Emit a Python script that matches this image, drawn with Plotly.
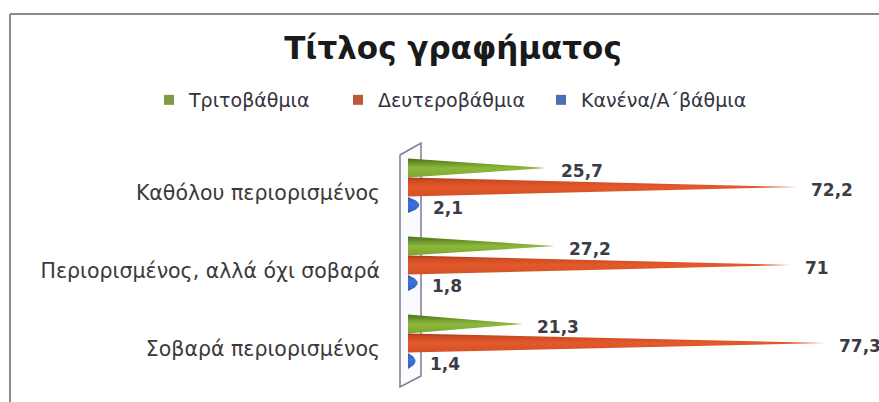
import numpy as np
import plotly.graph_objects as go

# ---- data -------------------------------------------------------------
categories = [
    "Καθόλου περιορισμένος",
    "Περιορισμένος, αλλά όχι σοβαρά",
    "Σοβαρά περιορισμένος",
]
series_names = ["Τριτοβάθμια", "Δευτεροβάθμια", "Κανένα/Α΄βάθμια"]
tertiary = [25.7, 27.2, 21.3]
secondary = [72.2, 71.0, 77.3]
none_primary = [2.1, 1.8, 1.4]
chart_title = "Τίτλος γραφήματος"

# ---- page geometry ----------------------------------------------------
W, H = 879, 402
M_L, M_R, M_T, M_B = 395, 0, 130, 0
PX_PER_UNIT_X = 5.39          # horizontal scale of the value axis
ZERO_PX = 408                 # pixel where the value axis starts
PX_PER_GROUP = 78.0           # vertical distance between category groups
TOP_GROUP_PX = 187.0          # centre of the middle cone of the first group

x_range = [(M_L - ZERO_PX) / PX_PER_UNIT_X, (W - M_R - ZERO_PX) / PX_PER_UNIT_X]
n = len(categories)


def y_of_px(p):
    return (n - 1) - (p - TOP_GROUP_PX) / PX_PER_GROUP


y_range = [y_of_px(H - M_B), y_of_px(M_T)]


def x_of_px(p):
    return (p - ZERO_PX) / PX_PER_UNIT_X


def paper_x(p):
    return (p - M_L) / (W - M_L - M_R)


def paper_y(p):
    return (H - M_B - p) / (H - M_T - M_B)


# series style: (values, vertical offset px, half height px, outline exponent, gradient)
series = [
    (tertiary, -19, 9.5, 1.0,
     [[0, "#4f6e18"], [0.25, "#6c962a"], [0.5, "#8cb83c"], [1, "#7ea534"]]),
    (secondary, 0, 9.5, 1.0,
     [[0, "#aa3c1a"], [0.2, "#d04c24"], [0.5, "#e35a2c"], [1, "#d45027"]]),
    (none_primary, 18, 8.0, 2.0,
     [[0, "#2d58b8"], [0.4, "#3c72dc"], [1, "#2f5fc2"]]),
]
legend_colors = ["#7f9a48", "#c0573c", "#4a6fb3"]
legend_widths = [144, 158, 180]

t = np.linspace(-1, 1, 41)

fig = go.Figure()

annotations = []
for (vals, dy_px, hh_px, expo, cscale), name in zip(series, series_names):
    for i, v in enumerate(vals):
        yc = (n - 1 - i) - dy_px / PX_PER_GROUP
        hh = hh_px / PX_PER_GROUP
        # cone silhouette: wide base on the axis, narrowing to the value
        xs = v * (1 - np.abs(t) ** expo)
        ys = yc - t * hh
        fig.add_trace(go.Scatter(
            x=np.r_[xs, xs[0]],
            y=np.r_[ys, ys[0]],
            mode="lines",
            fill="toself",
            fillgradient=dict(type="vertical", colorscale=cscale,
                              start=yc + hh, stop=yc - hh),
            line=dict(width=0),
            hoverinfo="skip",
            showlegend=False,
            name=name,
        ))
        annotations.append(dict(
            x=v, y=yc - 3 / PX_PER_GROUP, xref="x", yref="y",
            text=f"{v:g}".replace(".", ","),
            showarrow=False, xanchor="left", yanchor="middle", xshift=12,
            font=dict(family="DejaVu Sans", size=17, color="#3c3c46", weight="bold"),
        ))

# legend entries
for name, col, lw in zip(series_names, legend_colors, legend_widths):
    fig.add_trace(go.Scatter(
        x=[None], y=[None], mode="markers", name=name, legendwidth=lw,
        marker=dict(symbol="square", size=10, color=col),
    ))

# back wall of the category axis
wall = [(400, 155), (421, 143), (421, 376), (400, 387)]
wall_path = "M " + " L ".join(f"{x_of_px(a):.4f},{y_of_px(b):.4f}" for a, b in wall) + " Z"

shapes = [
    dict(type="path", xref="x", yref="y", path=wall_path, layer="below",
         fillcolor="#fbfbfd", line=dict(color="#7c7c98", width=1.5)),
    # outer chart frame
    dict(type="line", xref="paper", yref="paper",
         x0=paper_x(10), x1=paper_x(W + 5), y0=paper_y(14), y1=paper_y(14),
         line=dict(color="#8a8a8a", width=2)),
    dict(type="line", xref="paper", yref="paper",
         x0=paper_x(10), x1=paper_x(10), y0=paper_y(14), y1=paper_y(H + 5),
         line=dict(color="#8a8a8a", width=2)),
]

tick_vals = [(n - 1 - i) - 6 / PX_PER_GROUP for i in range(n)]

fig.update_layout(
    width=W, height=H,
    margin=dict(l=M_L, r=M_R, t=M_T, b=M_B, pad=0, autoexpand=False),
    paper_bgcolor="white", plot_bgcolor="white",
    title=dict(text=chart_title, xref="container", yref="container",
               x=453 / W, xanchor="center", y=1 - 48 / H, yanchor="middle",
               font=dict(family="DejaVu Sans", size=31, color="#1a1a1a", weight="bold")),
    legend=dict(orientation="h", xref="paper", yref="paper",
                x=paper_x(149), xanchor="left", y=paper_y(100), yanchor="middle",
                font=dict(family="DejaVu Sans", size=19, color="#333340"),
                itemclick=False, itemdoubleclick=False),
    xaxis=dict(range=x_range, visible=False, fixedrange=True),
    yaxis=dict(range=y_range, tickvals=tick_vals, ticktext=categories,
               showgrid=False, zeroline=False, showline=False, ticks="",
               ticklabelstandoff=14, fixedrange=True,
               tickfont=dict(family="DejaVu Sans", size=20.5, color="#3a3a3a")),
    shapes=shapes,
    annotations=annotations,
    showlegend=True,
)

fig.write_html("out.html")
